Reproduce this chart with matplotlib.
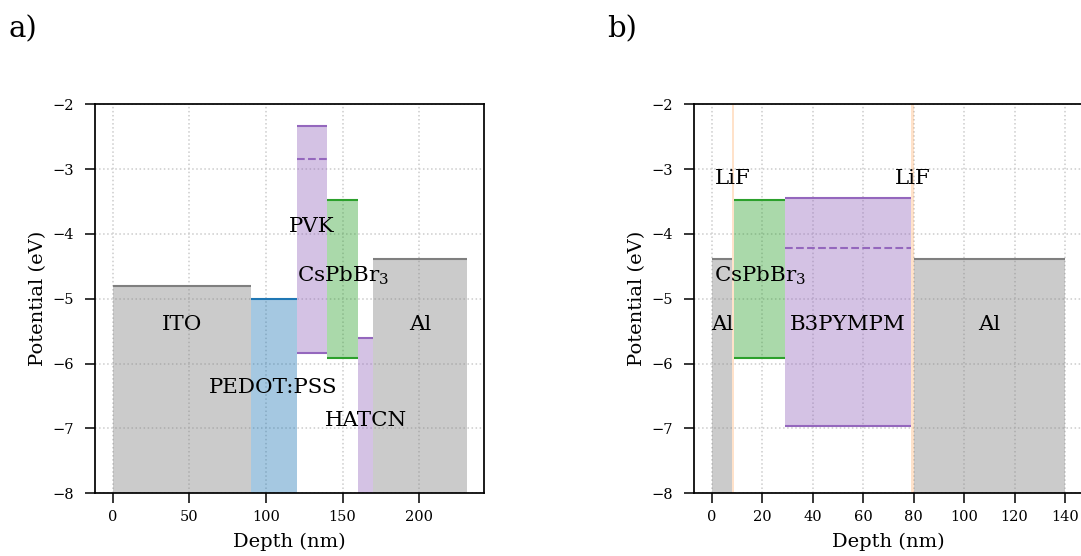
import matplotlib
matplotlib.use('Agg')
import matplotlib.pyplot as plt

# energy levels (eV), None = outside the plotted window
a_names = ['ITO', 'PEDOT:PSS', 'PVK', 'CsPbBr$_3$', 'HATCN', 'Al']
a_thick = [90, 30, 20, 20, 10, 61]
a_top = [-4.8, -5.0, -2.33, -3.47, -5.6, -4.38]
a_bottom = [None, None, -5.83, -5.92, None, None]
a_mid = [None, None, -2.84, None, None, None]
a_colors = ['C7', 'C0', 'C4', 'C2', 'C4', 'C7']

b_names = ['Al', 'LiF', 'CsPbBr$_3$', 'B3PYMPM', 'LiF', 'Al']
b_thick = [8, 1, 20, 50, 1, 60]
b_top = [-4.38, None, -3.47, -3.44, None, -4.38]
b_bottom = [None, None, -5.92, -6.96, None, None]
b_mid = [None, None, None, -4.22, None, None]
b_colors = ['C7', 'C1', 'C2', 'C4', 'C1', 'C7']

YMIN, YMAX = -8, -2

plt.rcParams['font.family'] = ['DejaVu Serif']
plt.rcParams['mathtext.fontset'] = 'dejavuserif'


def draw_stack(ax, names, thick, top, bottom, mid, colors, label_y):
    x0 = 0
    for name, t, hi, lo, m, c, ly in zip(names, thick, top, bottom, mid, colors, label_y):
        h = hi if hi is not None else YMAX + 1
        l = lo if lo is not None else YMIN - 1
        # LiF is only a thin sliver, drawn paler
        alpha = 0.22 if c == 'C1' else 0.4
        ax.bar(x0, h - l, width=t, bottom=l, align='edge', color=c, alpha=alpha, lw=0, zorder=2)
        if hi is not None:
            ax.hlines(hi, x0, x0 + t, color=c, lw=1.5, zorder=3)
        if lo is not None:
            ax.hlines(lo, x0, x0 + t, color=c, lw=1.5, zorder=3)
        if m is not None:
            ax.hlines(m, x0, x0 + t, color=c, lw=1.5, ls='--', zorder=3)
        ax.text(x0 + t / 2, ly, name, ha='center', va='center', fontsize=15.4, zorder=4)
        x0 += t
    ax.set_xlim(-0.05 * x0, 1.05 * x0)
    ax.set_ylim(YMIN, YMAX)
    ax.grid(ls=':', color='0.8', lw=1.1, zorder=1)
    ax.set_axisbelow(True)
    ax.tick_params(direction='out', length=7, width=1.1, labelsize=10.5)
    ax.tick_params(axis='x', pad=5)
    ax.tick_params(axis='y', pad=8)
    for s in ax.spines.values():
        s.set_linewidth(1.25)
    ax.set_xlabel('Depth (nm)', fontsize=14, labelpad=6)
    ax.set_ylabel('Potential (eV)', fontsize=14)


fig = plt.figure(figsize=(10.81, 5.56), dpi=100)
ax_a = fig.add_axes([0.0879, 0.1128, 0.3602, 0.6996])
ax_b = fig.add_axes([0.642, 0.1128, 0.3596, 0.6996])

draw_stack(ax_a, a_names, a_thick, a_top, a_bottom, a_mid, a_colors,
           [-5.4, -6.37, -3.88, -4.65, -6.88, -5.4])
draw_stack(ax_b, b_names, b_thick, b_top, b_bottom, b_mid, b_colors,
           [-5.4, -3.15, -4.65, -5.4, -3.15, -5.4])

fig.text(8 / 1081, 1 - 29 / 556, 'a)', fontsize=21, va='center')
fig.text(607 / 1081, 1 - 29 / 556, 'b)', fontsize=21, va='center')

fig.savefig('out.png', dpi=100)
